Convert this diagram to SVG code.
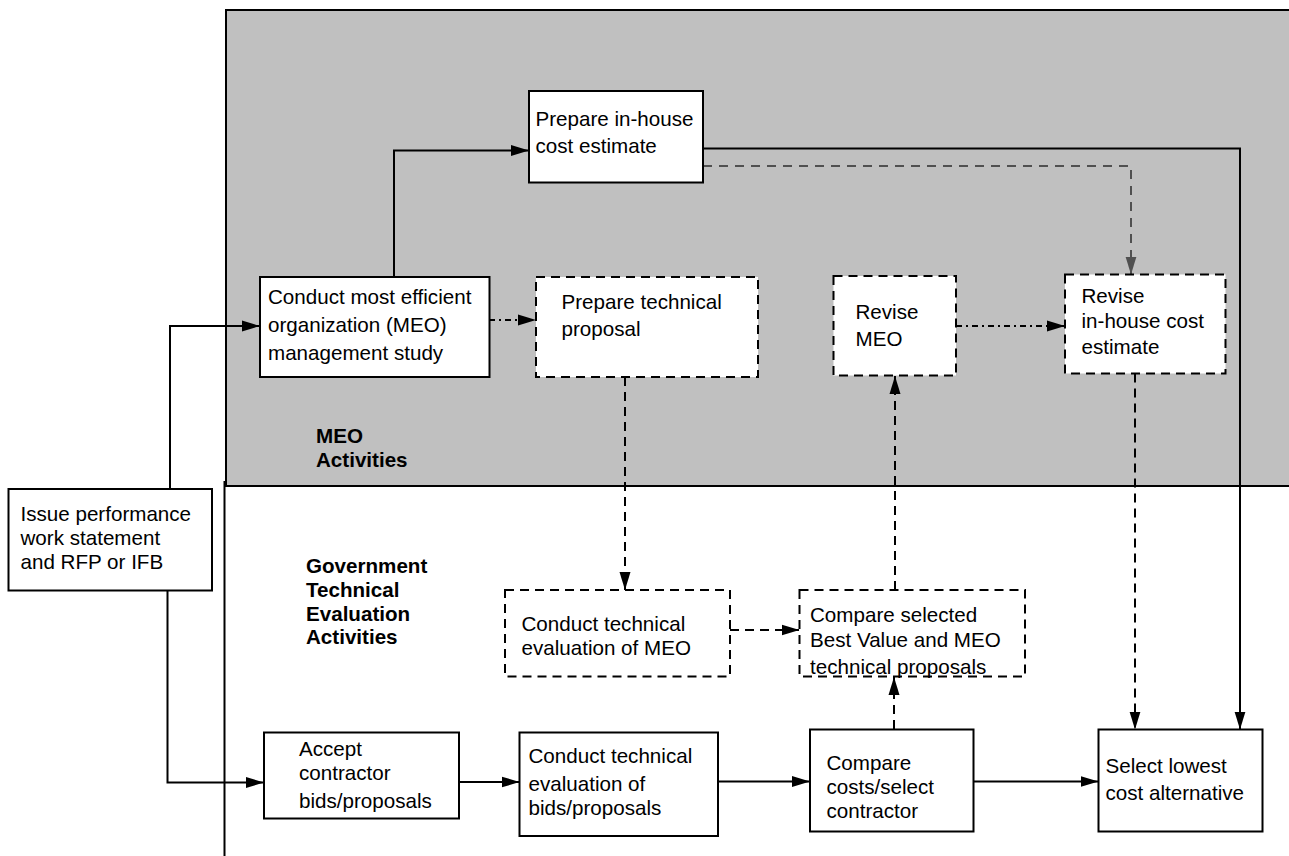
<svg xmlns="http://www.w3.org/2000/svg" width="1289" height="856" viewBox="0 0 1289 856">
<style>
.t{font-family:"Liberation Sans",Arial,sans-serif;font-size:20.6px;fill:#000}
.b{font-weight:bold}
.box{fill:#fff;stroke:#000;stroke-width:2}
.dbox{fill:#fff;stroke:#000;stroke-width:2;stroke-dasharray:9 6}
.c{fill:none;stroke:#000;stroke-width:2}
.dash{stroke-dasharray:9 6}
.dot{stroke-dasharray:6 4 2 4}
.gray{stroke:#505050;stroke-dasharray:9 7}
</style>
<defs>
<marker id="ah" markerUnits="userSpaceOnUse" markerWidth="20" markerHeight="14" refX="18" refY="6" orient="auto">
<path d="M0,0.5 L18,6 L0,11.5 z" fill="#000"/>
</marker>
<marker id="ahg" markerUnits="userSpaceOnUse" markerWidth="20" markerHeight="14" refX="18" refY="6" orient="auto">
<path d="M0,0.5 L18,6 L0,11.5 z" fill="#505050"/>
</marker>
</defs>
<rect width="1289" height="856" fill="#fff"/>
<g id="regions">
<rect x="226" y="10" width="1100" height="476" fill="#c0c0c0" stroke="#000" stroke-width="2"/>
<line x1="224.5" y1="481" x2="224.5" y2="856" stroke="#000" stroke-width="2"/>
<text class="t b" x="316" y="443">MEO</text>
<text class="t b" x="316" y="467">Activities</text>
<text class="t b" x="306" y="573">Government</text>
<text class="t b" x="306" y="597">Technical</text>
<text class="t b" x="306" y="621">Evaluation</text>
<text class="t b" x="306" y="644">Activities</text>
</g>
<g id="connectors">
<path class="c" d="M170,489 V326 H260" marker-end="url(#ah)"/>
<path class="c" d="M167.5,590 V782.5 H264" marker-end="url(#ah)"/>
<path class="c" d="M394,277 V150.5 H529" marker-end="url(#ah)"/>
<path class="c" d="M703,148.5 H1240 V729.5" marker-end="url(#ah)"/>
<path class="c gray" d="M703,166 H1131 V274.5" marker-end="url(#ahg)"/>
<path class="c dot" d="M489,320 H536" marker-end="url(#ah)"/>
<path class="c dash" d="M625,377 V590" marker-end="url(#ah)"/>
<path class="c dash" d="M730,630 H799.5" marker-end="url(#ah)"/>
<path class="c dash" d="M895,590 V376" marker-end="url(#ah)"/>
<path class="c dash" d="M894,729 V677" marker-end="url(#ah)"/>
<path class="c dot" d="M956,326 H1065" marker-end="url(#ah)"/>
<path class="c dash" d="M1135,373.5 V729.5" marker-end="url(#ah)"/>
<path class="c" d="M459,782 H519.5" marker-end="url(#ah)"/>
<path class="c" d="M718,781.5 H810" marker-end="url(#ah)"/>
<path class="c" d="M973,781.5 H1098.5" marker-end="url(#ah)"/>
</g>
<g id="issue">
<rect class="box" x="8.5" y="489" width="203.5" height="101.5"/>
<text class="t" x="20.5" y="521">Issue performance</text>
<text class="t" x="20.5" y="545">work statement</text>
<text class="t" x="20.5" y="568.5">and RFP or IFB</text>
</g>
<g id="meo-study">
<rect class="box" x="260" y="277" width="229.5" height="100"/>
<text class="t" x="268" y="304">Conduct most efficient</text>
<text class="t" x="268" y="332">organization (MEO)</text>
<text class="t" x="268" y="360">management study</text>
</g>
<g id="prepare-inhouse">
<rect class="box" x="529" y="91" width="174" height="91.5"/>
<text class="t" x="535.5" y="125.5">Prepare in-house</text>
<text class="t" x="535.5" y="153">cost estimate</text>
</g>
<g id="prepare-technical">
<rect class="dbox" x="536" y="277" width="222" height="100"/>
<text class="t" x="561.5" y="309">Prepare technical</text>
<text class="t" x="561.5" y="336">proposal</text>
</g>
<g id="revise-meo">
<rect class="dbox" x="833.5" y="276" width="122.5" height="99.5"/>
<text class="t" x="855.5" y="319">Revise</text>
<text class="t" x="855.5" y="346">MEO</text>
</g>
<g id="revise-inhouse">
<rect class="dbox" x="1065" y="274.5" width="160.5" height="99"/>
<text class="t" x="1081.5" y="303">Revise</text>
<text class="t" x="1081.5" y="328">in-house cost</text>
<text class="t" x="1081.5" y="354">estimate</text>
</g>
<g id="eval-meo">
<rect class="dbox" x="505" y="590" width="225" height="86.5"/>
<text class="t" x="521.5" y="631">Conduct technical</text>
<text class="t" x="521.5" y="655">evaluation of MEO</text>
</g>
<g id="compare-selected">
<rect class="dbox" x="799.5" y="590" width="225.5" height="86.5"/>
<text class="t" x="810" y="622">Compare selected</text>
<text class="t" x="810" y="647">Best Value and MEO</text>
<text class="t" x="810" y="673.5">technical proposals</text>
</g>
<g id="accept">
<rect class="box" x="264" y="732.5" width="195" height="86"/>
<text class="t" x="299" y="756">Accept</text>
<text class="t" x="299" y="780">contractor</text>
<text class="t" x="299" y="808">bids/proposals</text>
</g>
<g id="eval-bids">
<rect class="box" x="519.5" y="732.5" width="198.5" height="103.5"/>
<text class="t" x="528.5" y="763">Conduct technical</text>
<text class="t" x="528.5" y="790.5">evaluation of</text>
<text class="t" x="528.5" y="815">bids/proposals</text>
</g>
<g id="compare-costs">
<rect class="box" x="810" y="729.5" width="163.5" height="102"/>
<text class="t" x="826.5" y="770">Compare</text>
<text class="t" x="826.5" y="794">costs/select</text>
<text class="t" x="826.5" y="818">contractor</text>
</g>
<g id="select-lowest">
<rect class="box" x="1098.5" y="729.5" width="164" height="102"/>
<text class="t" x="1105.5" y="773">Select lowest</text>
<text class="t" x="1105.5" y="800">cost alternative</text>
</g>
</svg>
